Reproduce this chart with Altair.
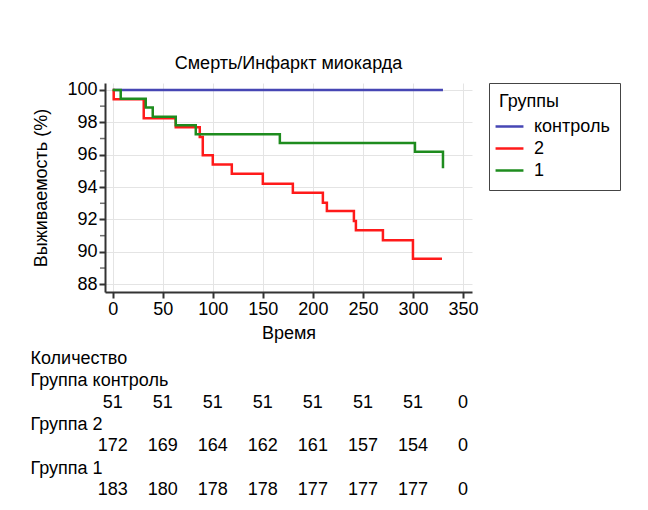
import altair as alt
import pandas as pd

# ---- data ----
GROUPS = ["контроль", "2", "1"]
COLORS = ["#4646b4", "#ff1a1a", "#1e8c1e"]

control_t = [0, 330]
control_s = [100.0, 100.0]

g2_t = [0, 1, 31, 63, 87, 90, 100, 119, 150, 180, 210, 214, 241, 243, 270, 300, 329]
g2_s = [100.0, 99.42, 98.25, 97.70, 97.09, 95.96, 95.40, 94.83, 94.21, 93.65,
        93.03, 92.52, 91.90, 91.34, 90.72, 89.57, 89.57]

g1_t = [0, 8, 33, 40, 63, 83, 167, 302, 330, 330]
g1_s = [100.0, 99.46, 98.91, 98.35, 97.82, 97.26, 96.72, 96.18, 96.18, 95.16]

X_TICKS = [0, 50, 100, 150, 200, 250, 300, 350]
Y_TICKS = [88, 90, 92, 94, 96, 98, 100]
Y_MINOR = [89, 91, 93, 95, 97, 99]
X_DOMAIN = [-7.7, 359]
Y_DOMAIN = [87.52, 100.43]

RISK_TIMES = [0, 50, 100, 150, 200, 250, 300, 350]
risk_control = [51, 51, 51, 51, 51, 51, 51, 0]
risk_g2 = [172, 169, 164, 162, 161, 157, 154, 0]
risk_g1 = [183, 180, 178, 178, 177, 177, 177, 0]
ROW_TITLES = ["Количество", "Группа контроль", "", "Группа 2", "", "Группа 1", ""]

FONT = "Liberation Sans, Arial, sans-serif"
FS = 18
W, H = 367, 209

# ---- build tables ----
rows = []
for g, ts, ss in [("контроль", control_t, control_s), ("2", g2_t, g2_s), ("1", g1_t, g1_s)]:
    for i, (t, s) in enumerate(zip(ts, ss)):
        rows.append({"group": g, "t": t, "s": s, "i": i})
km = pd.DataFrame(rows)

risk_rows = []
for r, vals in [(2, risk_control), (4, risk_g2), (6, risk_g1)]:
    for t, v in zip(RISK_TIMES, vals):
        risk_rows.append({"row": r, "t": t, "n": str(v)})
risk = pd.DataFrame(risk_rows)

xscale = alt.Scale(domain=X_DOMAIN, nice=False, zero=False)
yscale = alt.Scale(domain=Y_DOMAIN, nice=False, zero=False)
y_axis = alt.Axis(values=Y_TICKS, title="Выживаемость (%)", titlePadding=16,
                  labelOverlap=False)

lines = alt.Chart(km).mark_line(interpolate="step-after", strokeWidth=2.5).encode(
    x=alt.X("t:Q", scale=xscale,
            axis=alt.Axis(values=X_TICKS, title="Время", titlePadding=6, labelOverlap=False)),
    y=alt.Y("s:Q", scale=yscale, axis=y_axis),
    color=alt.Color("group:N", scale=alt.Scale(domain=GROUPS, range=COLORS),
                    sort=GROUPS,
                    legend=alt.Legend(title="Группы", orient="right", offset=10,
                                      symbolType="M-1.55,0H1.55", symbolSize=324,
                                      symbolStrokeWidth=2.5, labelOffset=14,
                                      padding=10, strokeColor="#444444",
                                      rowPadding=2, titlePadding=5)),
    detail="group:N",
    order="i:Q",
)

minor = alt.Chart(pd.DataFrame({"v": Y_MINOR})).mark_tick(
    orient="horizontal", size=5, thickness=1.5, color="#333333", xOffset=-2.5
).encode(
    x=alt.datum(X_DOMAIN[0], scale=xscale),
    y=alt.Y("v:Q", scale=yscale, axis=y_axis),
)

top = alt.layer(lines, minor).properties(
    width=W, height=H,
    title=alt.TitleParams("Смерть/Инфаркт миокарда", fontSize=FS, fontWeight="normal",
                          frame="group", anchor="middle", offset=8, font=FONT, color="#000"),
)

label_expr = "[" + ",".join("'" + s + "'" for s in ROW_TITLES) + "][datum.value]"

table = alt.Chart(risk).mark_text(fontSize=FS, font=FONT, color="#000", baseline="middle").encode(
    x=alt.X("t:Q", scale=xscale, axis=None),
    y=alt.Y("row:O", scale=alt.Scale(domain=list(range(7)), paddingInner=0, paddingOuter=0),
            axis=alt.Axis(title=None, labelExpr=label_expr, labelAlign="left",
                          labelPadding=75, ticks=False, tickSize=0, domain=False,
                          grid=False, labelFontSize=FS, labelColor="#000")),
    text="n:N",
).properties(width=W, height=153)

chart = alt.vconcat(top, table, spacing=56, bounds="flush").properties(
    padding={"left": 22, "top": 46, "right": 5, "bottom": 5}
).configure(font=FONT).configure_view(stroke=None).configure_axis(
    labelFontSize=FS, labelColor="#000", titleFontSize=FS, titleFontWeight="normal",
    titleColor="#000", domainColor="#333333", domainWidth=2, tickColor="#333333",
    tickWidth=2, tickSize=6, labelPadding=2, gridColor="#e4e4e4", gridWidth=1,
).configure_legend(
    labelFontSize=FS, titleFontSize=FS, titleFontWeight="normal", labelColor="#000",
    titleColor="#000",
)

chart.save("out.html", embed_options={"renderer": "svg", "actions": False})
